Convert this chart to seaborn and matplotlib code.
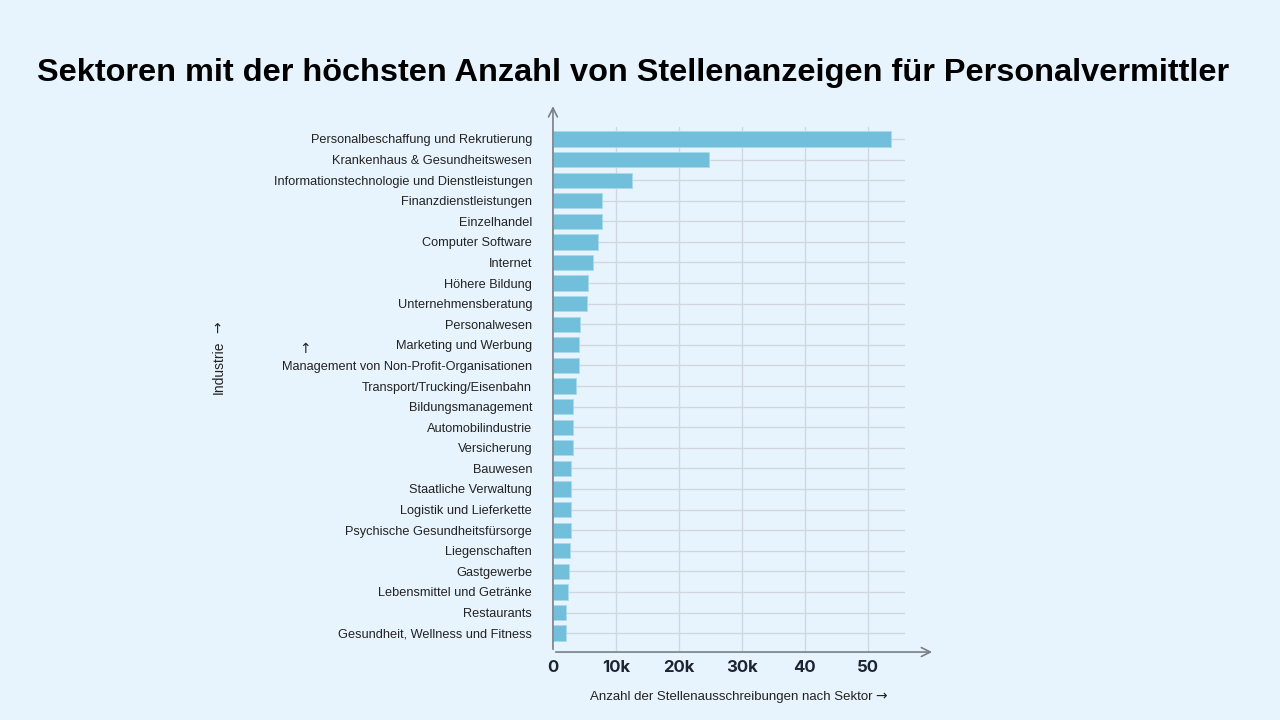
import matplotlib
matplotlib.use("Agg")
import matplotlib.pyplot as plt
import seaborn as sns
import pandas as pd

# Daten
sektoren = [
    "Personalbeschaffung und Rekrutierung",
    "Krankenhaus & Gesundheitswesen",
    "Informationstechnologie und Dienstleistungen",
    "Finanzdienstleistungen",
    "Einzelhandel",
    "Computer Software",
    "Internet",
    "Höhere Bildung",
    "Unternehmensberatung",
    "Personalwesen",
    "Marketing und Werbung",
    "Management von Non-Profit-Organisationen",
    "Transport/Trucking/Eisenbahn",
    "Bildungsmanagement",
    "Automobilindustrie",
    "Versicherung",
    "Bauwesen",
    "Staatliche Verwaltung",
    "Logistik und Lieferkette",
    "Psychische Gesundheitsfürsorge",
    "Liegenschaften",
    "Gastgewerbe",
    "Lebensmittel und Getränke",
    "Restaurants",
    "Gesundheit, Wellness und Fitness",
]
anzeigen = [53700, 24800, 12600, 7800, 7800, 7100, 6400, 5500, 5400,
            4300, 4100, 4100, 3650, 3200, 3200, 3200, 2900, 2800,
            2800, 2800, 2650, 2500, 2450, 2100, 2100]
x_ticks = [0, 10000, 20000, 30000, 40000, 50000]
x_ticklabels = ["0", "10k", "20k", "30k", "40", "50"]

df = pd.DataFrame({"Sektor": sektoren, "Anzahl": anzeigen})

bg = "#e8f4fd"
txt = "#222222"
sns.set_theme(style="white")
plt.rcParams["font.family"] = ["Liberation Sans", "DejaVu Sans"]

fig = plt.figure(figsize=(12.8, 7.2), dpi=100, facecolor=bg)
ax = fig.add_axes([0.432, 0.0944, 0.275, 0.7292])
ax.set_facecolor(bg)

sns.barplot(data=df, x="Anzahl", y="Sektor", color="#72bfdc",
            width=0.74, edgecolor="#a9d9ec", linewidth=0.6,
            saturation=1, ax=ax, zorder=3)

ax.set_xlim(0, 55900)
ax.set_ylim(len(sektoren) - 1 + 0.92, -0.58)

# Gitterlinien
for yy in range(len(sektoren)):
    ax.axhline(yy, color="#d0d7df", lw=1, zorder=1)
for xx in x_ticks[1:]:
    ax.axvline(xx, color="#d0d7df", lw=1, zorder=1)

ax.set_xticks(x_ticks)
ax.set_xticklabels(x_ticklabels, fontsize=12, fontweight="bold",
                   color="#1c2433", family="Inter")
ax.tick_params(axis="x", length=0, pad=6)
ax.tick_params(axis="y", length=0, pad=15, labelsize=9.2, labelcolor=txt)
ax.set_xlabel("")
ax.set_ylabel("")
for s in ax.spines.values():
    s.set_visible(False)

# Achsenpfeile
arrow = dict(arrowstyle="->", color="#7a7f87", lw=1.2, mutation_scale=16)
ax.annotate("", xy=(1.085, 0), xytext=(0, 0), xycoords="axes fraction",
            arrowprops=arrow, annotation_clip=False)
ax.annotate("", xy=(0, 1.045), xytext=(0, 0), xycoords="axes fraction",
            arrowprops=arrow, annotation_clip=False)

fig.text(0.4945, 0.899,
         "Sektoren mit der höchsten Anzahl von Stellenanzeigen für Personalvermittler",
         ha="center", va="center", fontsize=23.4, fontweight="bold", color="black")

# Achsentitel (Pfeile in DejaVu Sans)
fig.text(0.682, 0.032, "Anzahl der Stellenausschreibungen nach Sektor",
         ha="right", va="center", fontsize=9.5, color=txt)
fig.text(0.684, 0.033, "→", ha="left", va="center", fontsize=10,
         color=txt, family="DejaVu Sans")
fig.text(0.171, 0.49, "Industrie", rotation=90, ha="center", va="center",
         fontsize=10, color=txt)
fig.text(0.171, 0.545, "→", rotation=90, ha="center", va="center",
         fontsize=10, color=txt, family="DejaVu Sans")
fig.text(0.238, 0.515, "↑", ha="center", va="center", fontsize=10,
         color=txt, family="DejaVu Sans")

fig.savefig("out.png", dpi=100, facecolor=bg)
